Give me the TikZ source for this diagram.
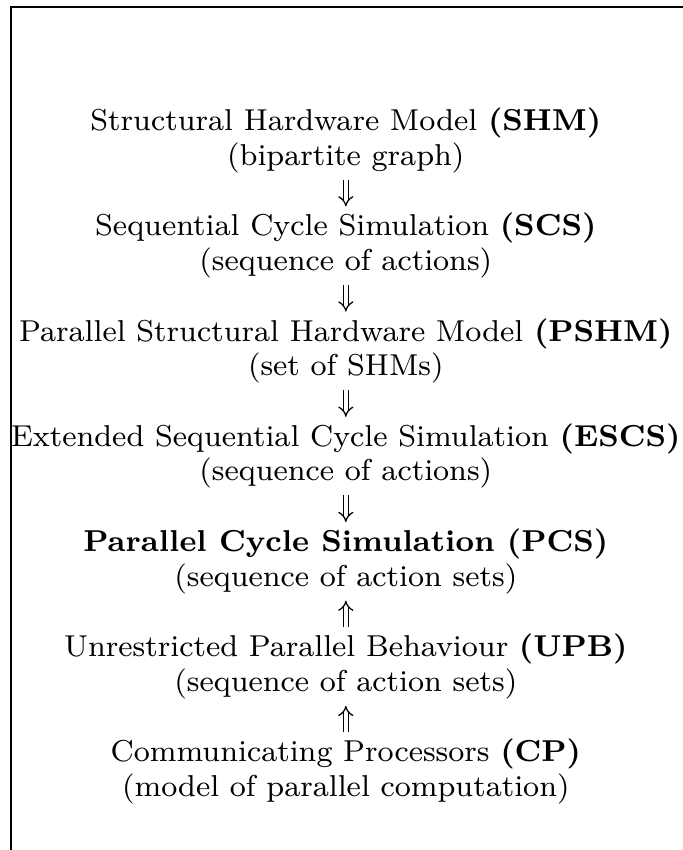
\documentclass[tikz,border=0pt]{standalone}
\usepackage{amsmath,amssymb}
\usetikzlibrary{arrows.meta,positioning}

\begin{document}
\begin{tikzpicture}[node distance=10.7pt, every node/.style={font=\fontsize{8.3}{9.5}\selectfont, inner sep=0pt, align=center},
  impl/.style={double, double distance=1.1pt, line width=0.35pt, -{Implies}, shorten <=1.7pt, shorten >=1.7pt}]
  \useasboundingbox (0,0) rectangle (187.6pt,233.5pt);
  % open frame: left and top edge only
  \draw[line width=0.55pt] (3pt,0) |- (187.6pt,231.6pt);
  \node[anchor=north] (shm) at (95pt,204pt) {Structural Hardware Model \textbf{(SHM)}\\(bipartite graph)};
  \node[below=of shm] (scs) {Sequential Cycle Simulation \textbf{(SCS)}\\(sequence of actions)};
  \node[below=of scs] (pshm) {Parallel Structural Hardware Model \textbf{(PSHM)}\\(set of SHMs)};
  \node[below=of pshm] (escs) {Extended Sequential Cycle Simulation \textbf{(ESCS)}\\(sequence of actions)};
  \node[below=of escs] (pcs) {\textbf{Parallel Cycle Simulation (PCS)}\\(sequence of action sets)};
  \node[below=of pcs] (upb) {Unrestricted Parallel Behaviour \textbf{(UPB)}\\(sequence of action sets)};
  \node[below=of upb] (cp) {Communicating Processors \textbf{(CP)}\\(model of parallel computation)};
  \draw[impl] (shm) -- (scs);
  \draw[impl] (scs) -- (pshm);
  \draw[impl] (pshm) -- (escs);
  \draw[impl] (escs) -- (pcs);
  \draw[impl] (upb) -- (pcs);
  \draw[impl] (cp) -- (upb);
\end{tikzpicture}
\end{document}
